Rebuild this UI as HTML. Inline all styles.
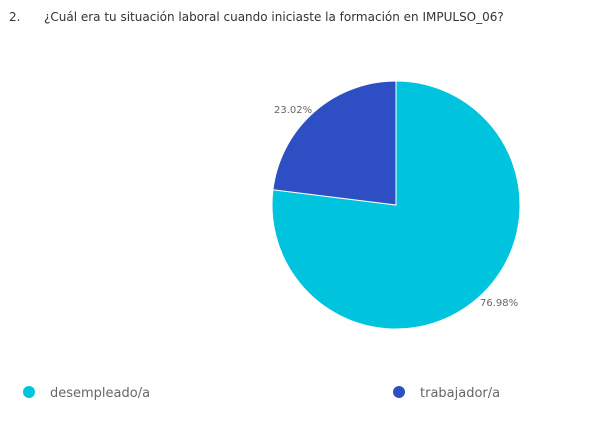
<!DOCTYPE html>
<html><head><meta charset="utf-8"><style>
body{margin:0;width:612px;height:432px;background:#fff;overflow:hidden;position:relative;font-family:"DejaVu Sans","Liberation Sans",sans-serif;}
.t{position:absolute;top:10px;font-size:12px;color:#333;white-space:nowrap}
</style></head><body>
<div class="t" style="left:9px">2.</div>
<div class="t" style="left:44px">¿Cuál era tu situación laboral cuando iniciaste la formación en IMPULSO_06?</div>
<svg width="612" height="432" style="position:absolute;left:0;top:0">
<path d="M396,205 L396,81 A124,124 0 1 1 272.95,189.7 Z" fill="#00c4dd" stroke="#fff" stroke-width="1"/>
<path d="M396,205 L272.95,189.7 A124,124 0 0 1 396,81 Z" fill="#2e4fc3" stroke="#fff" stroke-width="1"/>
<text x="274" y="113" font-size="10" fill="#666" font-family="DejaVu Sans,sans-serif">23.02%</text>
<text x="480" y="306" font-size="10" fill="#666" font-family="DejaVu Sans,sans-serif">76.98%</text>
<circle cx="29" cy="392" r="6" fill="#00c4dd"/>
<text x="50" y="397" font-size="13" fill="#666" font-family="DejaVu Sans,sans-serif">desempleado/a</text>
<circle cx="399" cy="392" r="6" fill="#2e4fc3"/>
<text x="420" y="397" font-size="13" fill="#666" font-family="DejaVu Sans,sans-serif">trabajador/a</text>
</svg>
</body></html>
